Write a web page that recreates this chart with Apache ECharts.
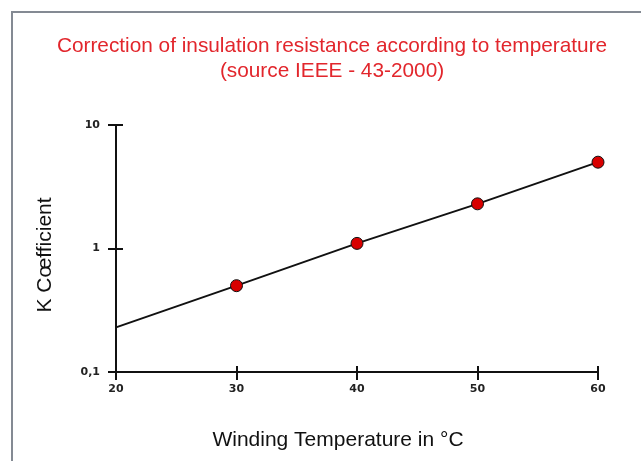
<!DOCTYPE html>
<html>
<head>
<meta charset="utf-8">
<script src="https://cdn.jsdelivr.net/npm/echarts@6/dist/echarts.min.js"></script>
<style>
  html, body { margin: 0; padding: 0; background: #fff; }
  #frame { position: absolute; left: 11px; top: 11px; width: 640px; height: 460px;
           border-left: 2px solid #848a93; border-top: 2px solid #848a93; }
  #main { position: absolute; left: 0; top: 0; width: 641px; height: 461px; }
</style>
</head>
<body>
<div id="frame"></div>
<div id="main"></div>
<script>
// winding temperature (°C) and K coefficient
var temps = [20, 30, 40, 50, 60];
var kValues = [0.23, 0.5, 1.1, 2.3, 5.0];
var xTicks = [20, 30, 40, 50, 60];
var yTicks = [0.1, 1, 10];

var lineData = temps.map(function (t, i) {
    var item = { value: [t, kValues[i]] };
    if (i === 0) {
        item.symbol = 'none';
    }
    return item;
});

var tickFont = { fontFamily: 'DejaVu Sans', fontSize: 11, fontWeight: 'bold', color: '#222' };
var nameFont = { fontFamily: 'Liberation Sans', fontSize: 21, fill: '#111' };

var myChart = echarts.init(document.getElementById('main'));
var option = {
    animation: false,
    title: {
        text: 'Correction of insulation resistance according to temperature\n(source IEEE - 43-2000)',
        left: 327,
        top: 29,
        textAlign: 'center',
        textStyle: {
            fontFamily: 'Liberation Sans',
            fontSize: 20.8,
            fontWeight: 'normal',
            color: '#e2262c',
            lineHeight: 25
        }
    },
    graphic: [{
        type: 'text',
        x: 338,
        y: 440,
        style: Object.assign({ text: 'Winding Temperature in °C', align: 'center', verticalAlign: 'middle' }, nameFont)
    }, {
        type: 'text',
        x: 45,
        y: 255,
        rotation: Math.PI / 2,
        style: Object.assign({ text: 'K Cœfficient', align: 'center', verticalAlign: 'middle' }, nameFont)
    }],
    grid: { left: 116, top: 125, right: 43, bottom: 89 },
    xAxis: [{
        type: 'value',
        min: xTicks[0],
        max: xTicks[xTicks.length - 1],
        interval: 10,
        axisLine: { lineStyle: { color: '#111', width: 2 } },
        axisTick: { length: 8, lineStyle: { color: '#111', width: 2 } },
        axisLabel: Object.assign({ margin: 12 }, tickFont),
        splitLine: { show: false }
    }, {
        type: 'value',
        position: 'bottom',
        min: xTicks[0],
        max: xTicks[xTicks.length - 1],
        interval: 10,
        axisLine: { show: false },
        axisTick: { inside: true, length: 6, lineStyle: { color: '#111', width: 2 } },
        axisLabel: { show: false },
        splitLine: { show: false }
    }],
    yAxis: [{
        type: 'log',
        logBase: 10,
        min: yTicks[0],
        max: yTicks[yTicks.length - 1],
        axisLine: { lineStyle: { color: '#111', width: 2 } },
        axisTick: { length: 8, lineStyle: { color: '#111', width: 2 } },
        axisLabel: Object.assign({
            margin: 16,
            formatter: function (v) { return String(v).replace('.', ','); }
        }, tickFont),
        splitLine: { show: false }
    }, {
        type: 'log',
        logBase: 10,
        position: 'left',
        min: yTicks[0],
        max: yTicks[yTicks.length - 1],
        axisLine: { show: false },
        axisTick: { inside: true, length: 7, lineStyle: { color: '#111', width: 2 } },
        axisLabel: { show: false },
        splitLine: { show: false }
    }],
    series: [{
        type: 'line',
        data: lineData,
        symbol: 'circle',
        symbolSize: 12,
        lineStyle: { color: '#111', width: 2 },
        itemStyle: { color: '#d80000', borderColor: '#111', borderWidth: 1 }
    }]
};
myChart.setOption(option);
</script>
</body>
</html>
